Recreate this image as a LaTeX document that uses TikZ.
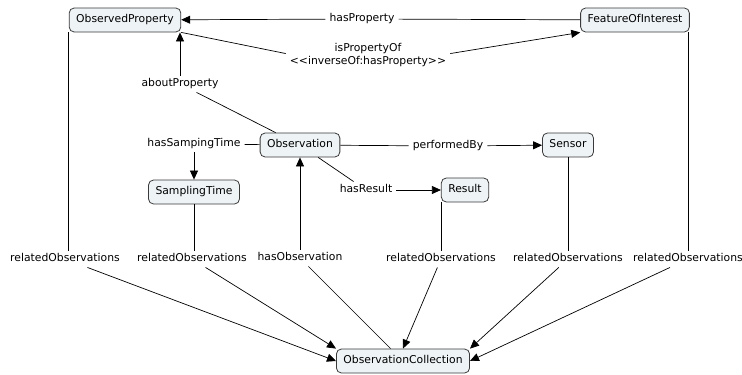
\documentclass[tikz,border=0pt]{standalone}
\usepackage{fontspec}
\setmainfont{DejaVu Sans}[Ligatures=TeXOff]
\usepackage{xcolor}
\usetikzlibrary{arrows.meta}
\definecolor{conceptfill}{HTML}{EEF3F6}
\definecolor{conceptline}{HTML}{3A3A3A}

\begin{document}
\begin{tikzpicture}[x=1pt,y=-1pt,font=\fontsize{10.8}{13}\selectfont]
% Styles for concepts, linking phrases and connectors
\tikzset{concept/.style={draw=conceptline,fill=conceptfill,rounded corners=5pt,line width=0.8pt,
    inner xsep=7pt,minimum height=24pt,text height=8pt,text depth=2.5pt},
  phrase/.style={inner xsep=4pt,inner ysep=3pt,text height=8pt,text depth=2.5pt},
  link/.style={line width=0.7pt},
  linkto/.style={link,-{Triangle[length=9pt,width=8pt]}}}
\useasboundingbox (0,0) rectangle (742,375);
% the concepts
\node[concept] (obsprop) at (125,20) {ObservedProperty};
\node[concept] (foi) at (635,20) {FeatureOfInterest};
\node[concept] (obs) at (300,145) {Observation};
\node[concept] (st) at (194,192) {SamplingTime};
\node[concept] (result) at (465,190) {Result};
\node[concept] (sensor) at (568,145) {Sensor};
\node[concept] (oc) at (403,361) {ObservationCollection};
% the linking phrases
\node[phrase] (hasprop) at (362,19) {hasProperty};
\node[phrase,align=center] (ispropof) at (368,62) {isPropertyOf\\<<inverseOf:hasProperty>>};
\node[phrase] (about) at (180,84) {aboutProperty};
\node[phrase] (hasst) at (194,144) {hasSampingTime};
\node[phrase] (perf) at (448,146) {performedBy};
\node[phrase] (hasres) at (366,190) {hasResult};
\node[phrase] (hasobs) at (300,258) {hasObservation};
\foreach \name/\x in {rel1/65,rel2/192,rel3/441,rel4/568,rel5/688} {
  \node[phrase] (\name) at (\x,259) {relatedObservations};
}
% hasProperty / isPropertyOf
\draw[link] (foi) -- (hasprop);
\draw[linkto] (hasprop) -- (obsprop);
\draw[link] (obsprop.south east) -- (ispropof.north west);
\draw[linkto] (ispropof.north east) -- (foi.south west);
% links out of Observation
\draw[link] (obs) -- (about);
\draw[linkto] (about) -- (about |- obsprop.south);
\draw[link] (obs) -- (hasst);
\draw[linkto] (hasst) -- (st);
\draw[link] (obs) -- (perf);
\draw[linkto] (perf) -- (sensor);
\draw[link] (obs) -- (hasres);
\draw[linkto] (hasres) -- (result);
% hasObservation
\draw[link] (oc) -- (hasobs);
\draw[linkto] (hasobs) -- (obs);
% relatedObservations -- concept to phrase
\draw[link] (obsprop.south west) -- (obsprop.south west |- rel1.north);
\draw[link] (st) -- (st |- rel2.north);
\draw[link] (rel3.north |- result.south) -- (rel3.north);
\draw[link] (sensor) -- (sensor |- rel4.north);
\draw[link] (rel5.north |- foi.south) -- (rel5.north);
% relatedObservations -- phrase to ObservationCollection
\foreach \name/\at in {rel1/west,rel2/north west,rel3/north,rel4/north east,rel5/east} {
  \draw[linkto] (\name) -- (oc.\at);
}
\end{tikzpicture}
\end{document}
